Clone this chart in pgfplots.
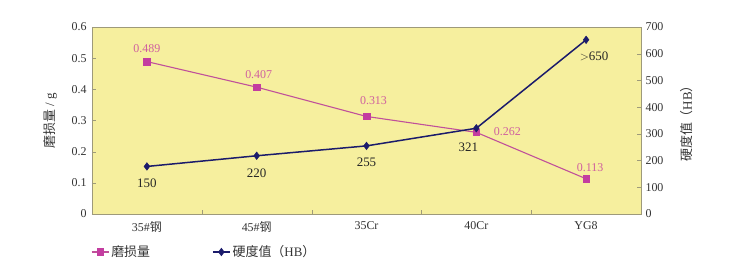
\documentclass[border=0pt]{standalone}
\usepackage{pgfplots}
\pgfplotsset{compat=1.18}
\usepackage{fontspec}
\setmainfont{Liberation Serif}
\newfontfamily\cjk{Noto Sans CJK SC}
\definecolor{bgy}{HTML}{F6EF9E}
\definecolor{pinkl}{HTML}{C0509A}
\definecolor{pinkm}{HTML}{C33DA0}
\definecolor{pinkt}{HTML}{D0609F}
\definecolor{navy}{HTML}{1B1B6B}
\definecolor{frame}{HTML}{9E9A7A}
\begin{document}
\begin{tikzpicture}
\path (-92bp,-56bp) rectangle (653bp,214bp);
\begin{axis}[
  at={(0,0)}, anchor=south west, scale only axis,
  width=549bp, height=187bp,
  xmin=-0.5, xmax=4.5, ymin=0, ymax=0.6,
  axis background/.style={fill=bgy},
  axis line style={frame},
  xtick={0,1,2,3,4},
  xticklabels={35\#{\cjk 钢},45\#{\cjk 钢},35Cr,40Cr,YG8},
  xticklabel style={yshift=-4bp},
  minor xtick={0.5,1.5,2.5,3.5},
  major x tick style={draw=none},
  minor x tick style={frame},
  minor tick length=4bp,
  xtick pos=bottom,
  ytick={0,0.1,...,0.6},
  yticklabel style={/pgf/number format/fixed, /pgf/number format/precision=1, xshift=-2bp},
  ytick pos=left,
  major y tick style={frame},
  major tick length=4bp,
  tick label style={font=\fontsize{12}{14}\selectfont, text=black!80},
  /pgf/number format/assume math mode=true,
  ylabel={{\cjk 磨损量} / g},
  ylabel style={font=\fontsize{13}{15}\selectfont, text=black!80, at={([xshift=-42bp]axis description cs:0,0.5)}, anchor=center},
  legend columns=2,
  legend style={at={(axis description cs:0,0)}, anchor=west, yshift=-38bp, xshift=-4bp, draw=none, fill=none,
    font=\fontsize{13}{15}\selectfont, text=black!80,
    /tikz/every even column/.append style={column sep=60bp}},
  legend cell align=left,
  clip=false,
]
\addplot[pinkl, line width=1.1pt, mark=square*, mark size=3.3pt, mark options={pinkm, draw=pinkm, line width=0.5pt}]
  coordinates {(0,0.489) (1,0.407) (2,0.313) (3,0.262) (4,0.113)};
\addlegendentry{\cjk 磨损量}
\addlegendimage{navy, line width=1.5pt, mark=diamond*, mark size=3.8pt, mark options={line width=0.5pt}}
\addlegendentry{{\cjk 硬度值（}HB{\cjk ）}}
\begin{scope}[every node/.style={font=\fontsize{12}{14}\selectfont, text=pinkt}]
\node at (axis cs:0,0.489) [yshift=13bp] {0.489};
\node at (axis cs:1,0.407) [yshift=13bp, xshift=2bp] {0.407};
\node at (axis cs:2,0.313) [yshift=16bp, xshift=7bp] {0.313};
\node at (axis cs:3,0.262) [xshift=31bp, yshift=1bp] {0.262};
\node at (axis cs:4,0.113) [yshift=11bp, xshift=4bp] {0.113};
\end{scope}
\end{axis}
\begin{axis}[
  at={(0,0)}, anchor=south west, scale only axis,
  width=549bp, height=187bp,
  xmin=-0.5, xmax=4.5, ymin=0, ymax=700,
  hide x axis,
  axis y line*=right,
  axis line style={frame},
  ytick={0,100,...,700},
  major y tick style={frame},
  major tick length=4bp,
  tick label style={font=\fontsize{12}{14}\selectfont, text=black!80},
  yticklabel style={anchor=west, xshift=1bp},
  /pgf/number format/assume math mode=true,
  ylabel={{\cjk 硬度值（}HB{\cjk ）}},
  ylabel style={font=\fontsize{13}{15}\selectfont, text=black!80, at={([xshift=46bp]axis description cs:1,0.5)}, anchor=center},
  clip=false,
]
\addplot[navy, line width=1.5pt, mark=diamond*, mark size=3.8pt, mark options={line width=0.5pt}]
  coordinates {(0,178) (1,218) (2,255) (3,321) (4,652)};
\begin{scope}[every node/.style={font=\fontsize{13}{15}\selectfont, text=black!85}]
\node at (axis cs:0,178) [yshift=-17bp] {150};
\node at (axis cs:1,218) [yshift=-17bp] {220};
\node at (axis cs:2,255) [yshift=-16bp] {255};
\node at (axis cs:3,321) [yshift=-19bp, xshift=-8bp] {321};
\node at (axis cs:4,652) [yshift=-17bp, xshift=8bp] {$>$650};
\end{scope}
\end{axis}
\end{tikzpicture}
\end{document}
